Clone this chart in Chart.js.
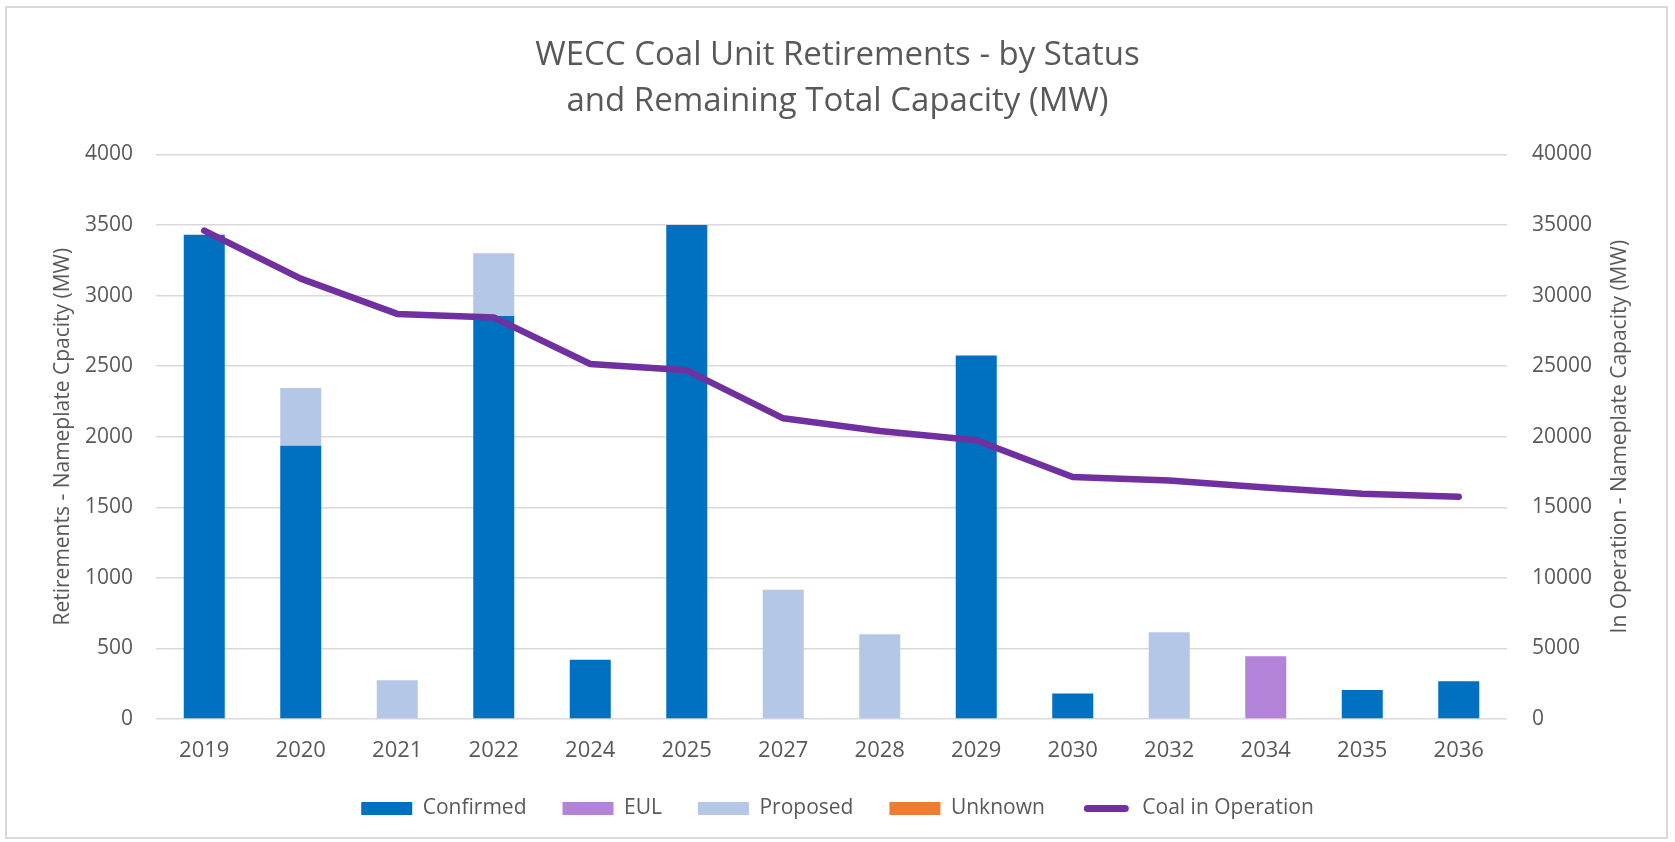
<!DOCTYPE html>
<html>
<head>
<meta charset="utf-8">
<title>WECC Coal Unit Retirements</title>
<script src="https://cdn.jsdelivr.net/npm/chart.js@4.4.1/dist/chart.umd.min.js"></script>
<style>
  html, body { margin: 0; padding: 0; background: #fff; }
  #wrap { position: relative; width: 1675px; height: 842px; }
  #frame {
    position: absolute; left: 5px; top: 6px; width: 1663px; height: 833px;
    box-sizing: border-box; border: 2px solid #d9d9d9; pointer-events: none;
  }
</style>
</head>
<body>
<div id="wrap">
  <canvas id="myChart" width="1675" height="842"></canvas>
  <div id="frame"></div>
</div>
<script>
var years = ["2019","2020","2021","2022","2024","2025","2027","2028","2029","2030","2032","2034","2035","2036"];
var confirmed = [3430, 1935, 0, 2855, 420, 3500, 0, 0, 2575, 180, 0, 0, 205, 268];
var eul       = [0, 0, 0, 0, 0, 0, 0, 0, 0, 0, 0, 445, 0, 0];
var proposed  = [0, 410, 275, 445, 0, 0, 915, 600, 0, 0, 615, 0, 0, 0];
var unknown   = [0, 0, 0, 0, 0, 0, 0, 0, 0, 0, 0, 0, 0, 0];
var coalInOperation = [34600, 31200, 28700, 28450, 25150, 24700, 21300, 20400, 19750, 17150, 16900, 16400, 15950, 15750];

var leftTicks = [0, 4000, 500];
var rightTicks = [0, 40000, 5000];

var grey = "#595959";
Chart.defaults.font.family = "'Open Sans', sans-serif";
Chart.defaults.color = grey;

/* right axis title reads bottom-to-top like the left one */
var rightTitle = {
  id: "rightTitle",
  afterDraw: function(chart){
    var c = chart.ctx;
    var area = chart.chartArea;
    c.save();
    c.translate(1620, (area.top + area.bottom) / 2);
    c.rotate(-Math.PI / 2);
    c.font = "21px 'Open Sans', sans-serif";
    c.fillStyle = grey;
    c.textAlign = "center";
    c.textBaseline = "middle";
    c.fillText("In Operation - Nameplate Capacity (MW)", 0, 0);
    c.restore();
  }
};

function plain(v){ return String(v); }

function bar(label, data, color){
  return { type: "bar", label: label, data: data, backgroundColor: color, borderWidth: 0,
           yAxisID: "y", stack: "s", order: 1, barPercentage: 0.425, categoryPercentage: 1 };
}

var ctx = document.getElementById("myChart").getContext("2d");
var myChart = new Chart(ctx, {
  data: {
    labels: years,
    datasets: [
      bar("Confirmed", confirmed, "#0070c0"),
      bar("EUL", eul, "#b383d9"),
      bar("Proposed", proposed, "#b4c7e7"),
      bar("Unknown", unknown, "#ed7d31"),
      {
        type: "line", label: "Coal in Operation", data: coalInOperation, yAxisID: "y1", order: 0,
        borderColor: "#7030a0", backgroundColor: "#7030a0", borderWidth: 6.5,
        borderCapStyle: "round", borderJoinStyle: "round", pointRadius: 0, tension: 0
      }
    ]
  },
  options: {
    responsive: false,
    animation: false,
    layout: { padding: { top: 0, bottom: 13, left: 0, right: 0 } },
    plugins: {
      title: {
        display: true,
        text: ["WECC Coal Unit Retirements - by Status", "and Remaining Total Capacity (MW)"],
        color: grey,
        font: { size: 33, weight: "normal", lineHeight: 1.415 },
        padding: { top: 32, bottom: 29 }
      },
      legend: {
        position: "bottom",
        labels: {
          boxWidth: 51, boxHeight: 13, padding: 36, color: grey,
          font: { size: 21 },
          sort: function(a, b){ return a.datasetIndex - b.datasetIndex; },
          generateLabels: function(chart){
            var items = Chart.defaults.plugins.legend.labels.generateLabels(chart);
            items.forEach(function(item){
              if (item.datasetIndex === 4) {
                item.fillStyle = "#7030a0";
                item.strokeStyle = "#ffffff";
                item.lineWidth = 6;
                item.borderRadius = 6.5;
              }
            });
            return items;
          }
        }
      },
      tooltip: { enabled: false }
    },
    scales: {
      x: {
        stacked: true,
        grid: { display: false, drawTicks: false },
        border: { display: false },
        ticks: { padding: 21, color: grey, font: { size: 22, lineHeight: 1 } },
        afterFit: function(s){ s.height = 43; }
      },
      y: {
        position: "left",
        stacked: true,
        min: leftTicks[0], max: leftTicks[1],
        ticks: { stepSize: leftTicks[2], padding: 23, color: grey, font: { size: 21 }, callback: plain },
        grid: { color: "#d9d9d9", lineWidth: 1.5, drawTicks: false },
        border: { display: false },
        title: {
          display: true, text: "Retirements - Nameplate Cpacity (MW)", color: grey,
          font: { size: 21 }, padding: { top: 50, bottom: 0 }
        },
        afterFit: function(s){ s.width = 156; }
      },
      y1: {
        position: "right",
        min: rightTicks[0], max: rightTicks[1],
        ticks: { stepSize: rightTicks[2], padding: 25, color: grey, font: { size: 21 }, callback: plain },
        grid: { drawOnChartArea: false, drawTicks: false },
        border: { display: false },
        afterFit: function(s){ s.width = 168; }
      }
    }
  },
  plugins: [rightTitle]
});
</script>
</body>
</html>
